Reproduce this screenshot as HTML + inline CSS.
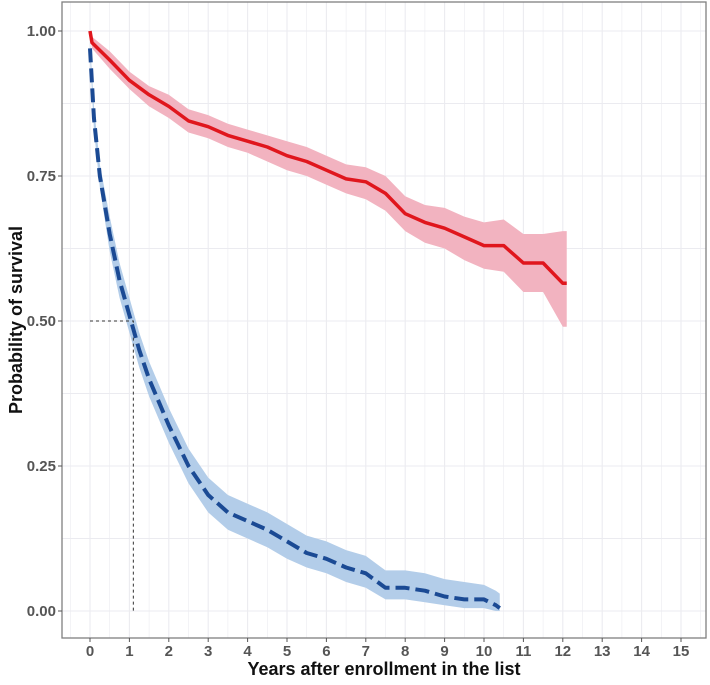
<!DOCTYPE html>
<html><head><meta charset="utf-8">
<style>
body{margin:0;background:#fff;font-family:"Liberation Sans",sans-serif;}
svg text{font-family:"Liberation Sans",sans-serif;}
</style></head>
<body>
<svg id="chart" width="710" height="680" xmlns="http://www.w3.org/2000/svg">
<g id="grid"></g>
<g id="bands"></g>
<g id="lines"></g>
<g id="axes"></g>
<text transform="translate(22,320) rotate(-90)" text-anchor="middle" font-size="18" font-weight="bold" fill="#111">Probability of survival</text>
<text x="384" y="675" text-anchor="middle" font-size="18" font-weight="bold" fill="#111">Years after enrollment in the list</text>
</svg>
<script>
const xTicks=[0,1,2,3,4,5,6,7,8,9,10,11,12,13,14,15];
const yTicks=[0,0.25,0.5,0.75,1];
const yTickLabels=["0.00","0.25","0.50","0.75","1.00"];
const redT=[0,0.05,0.5,1,1.5,2,2.5,3,3.5,4,4.5,5,5.5,6,6.5,7,7.5,8,8.5,9,9.5,10,10.5,11,11.5,12,12.1];
const redS=[1.0,0.98,0.95,0.915,0.89,0.87,0.845,0.835,0.82,0.81,0.80,0.785,0.775,0.76,0.745,0.74,0.72,0.685,0.67,0.66,0.645,0.63,0.63,0.60,0.60,0.565,0.565];
const redLo=[1.0,0.97,0.935,0.9,0.87,0.85,0.825,0.815,0.80,0.79,0.775,0.76,0.75,0.735,0.72,0.71,0.69,0.655,0.635,0.625,0.605,0.59,0.585,0.55,0.55,0.49,0.49];
const redHi=[1.0,0.99,0.965,0.93,0.905,0.89,0.865,0.855,0.84,0.83,0.82,0.81,0.80,0.785,0.77,0.765,0.75,0.715,0.70,0.695,0.68,0.67,0.675,0.65,0.65,0.655,0.655];
const blueT=[0,0.1,0.25,0.5,0.75,1,1.25,1.5,1.75,2,2.5,3,3.5,4,4.5,5,5.5,6,6.5,7,7.5,8,8.5,9,9.5,10,10.3,10.4];
const blueS=[0.97,0.85,0.75,0.65,0.57,0.51,0.45,0.40,0.36,0.32,0.25,0.20,0.17,0.155,0.14,0.12,0.10,0.09,0.075,0.065,0.04,0.04,0.035,0.025,0.02,0.02,0.01,0.005];
const blueLo=[0.96,0.83,0.73,0.62,0.54,0.48,0.42,0.37,0.33,0.29,0.22,0.17,0.14,0.125,0.11,0.09,0.075,0.065,0.05,0.04,0.02,0.02,0.015,0.01,0.005,0.005,0.0,0.0];
const blueHi=[0.98,0.87,0.77,0.68,0.60,0.54,0.48,0.43,0.39,0.35,0.28,0.23,0.20,0.185,0.17,0.15,0.13,0.12,0.105,0.095,0.07,0.07,0.065,0.055,0.05,0.045,0.035,0.03];
const medianX=1.1, medianY=0.5;
const X=v=>90+v*39.4, Y=v=>611-v*580;
const NS="http://www.w3.org/2000/svg";
function mk(tag,attrs,parent){const e=document.createElementNS(NS,tag);for(const k in attrs)e.setAttribute(k,attrs[k]);parent.appendChild(e);return e;}
const grid=document.getElementById('grid'),bands=document.getElementById('bands'),lines=document.getElementById('lines'),axes=document.getElementById('axes');
const L=62,R=706,T=2,B=638;
for(let v=-0.5;v<=15.5;v+=0.5){const x=X(v);if(x<L||x>R)continue;const g=mk('line',{x1:x,x2:x,y1:T,y2:B,stroke:'#ebebf0','stroke-width':Number.isInteger(v)?1.1:0.6},grid);

}
for(let v=-0.125;v<=1.05;v+=0.125){const y=Y(v);if(y<T||y>B)continue;const g=mk('line',{x1:L,x2:R,y1:y,y2:y,stroke:'#ebebf0','stroke-width':1},grid);

}
function pts(t,s){return t.map((v,i)=>[X(v),Y(s[i])]);}
function band(t,lo,hi,fill,name){const a=pts(t,hi),b=pts(t,lo).reverse();const d='M'+a.concat(b).map(p=>p.join(',')).join('L')+'Z';const e=mk('path',{d:d,fill:fill},bands);

}
band(redT,redLo,redHi,'#f2b3c0','red-confidence-band');
band(blueT,blueLo,blueHi,'#b3cde9','blue-confidence-band');
const dl=mk('path',{d:`M${X(0)},${Y(medianY)}L${X(medianX)},${Y(medianY)}L${X(medianX)},${Y(0)}`,fill:'none',stroke:'#333','stroke-width':1,'stroke-dasharray':'3 3'},lines);


function line(t,s,col,w,dash,name){const d='M'+pts(t,s).map(p=>p.join(',')).join('L');const e=mk('path',{d:d,fill:'none',stroke:col,'stroke-width':w,'stroke-linejoin':'round'},lines);if(dash)e.setAttribute('stroke-dasharray',dash);

}
line(redT,redS,'#e0161d',3.5,null,'red-survival-curve');
line(blueT,blueS,'#1b4a94',4,'14 6','blue-survival-curve');
const fr=mk('rect',{x:L,y:T,width:R-L,height:B-T,fill:'none',stroke:'#7f7f7f','stroke-width':1.3},axes);


xTicks.forEach(v=>{const x=X(v);mk('line',{x1:x,x2:x,y1:B,y2:B+4,stroke:'#555'},axes);const t=mk('text',{x:x,y:B+18,'text-anchor':'middle','font-size':15,'font-weight':'bold',fill:'#555'},axes);t.textContent=v;

});
yTicks.forEach((v,i)=>{const y=Y(v);mk('line',{x1:L-4,x2:L,y1:y,y2:y,stroke:'#555'},axes);const t=mk('text',{x:L-6,y:y+5,'text-anchor':'end','font-size':15,'font-weight':'bold',fill:'#555'},axes);t.textContent=yTickLabels[i];

});
</script>
</body></html>
